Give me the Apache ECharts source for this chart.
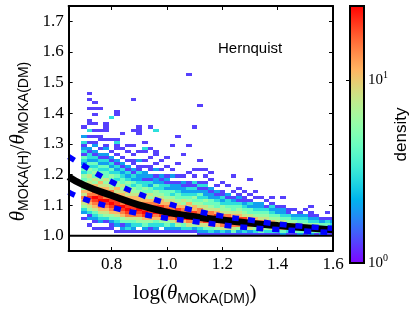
<!DOCTYPE html>
<html><head><meta charset="utf-8">
<script src="https://cdn.jsdelivr.net/npm/echarts@6/dist/echarts.min.js"></script>
<style>html,body{margin:0;padding:0;background:#fff}#c{width:415px;height:311px}</style>
</head><body><div id="c"></div>
<script>
// ---- axes / ticks ----
const X_MIN = 0.645, X_MAX = 1.6;
const Y_MIN = 0.95, Y_MAX = 1.75;
const X_TICKS = [0.8, 1.0, 1.2, 1.4, 1.6];
const Y_TICKS = [1.0, 1.1, 1.2, 1.3, 1.4, 1.5, 1.6, 1.7];
const CBAR_MIN = 1, CBAR_MAX = 25.4;
const CBAR_TICKS = [1, 10];

// ---- 2D histogram (columns of x-bins, chars = rows from y=0.98 upward) ----
const BIN_X0 = 0.69, BIN_DX = 0.02, BIN_Y0 = 0.98, BIN_DY = 0.01;
const LEVEL_VALUES = { '1': 1.3, '2': 2, '3': 3, '4': 4.5, '5': 6, '6': 8, '7': 11, '8': 15, '9': 20, 'X': 25 };
const COLUMNS = [
  ".......1.235678675654534423413213.2..1",
  ".....1.213567898786656453423312.1.1.3.11...1..1.1",
  "....1.12346789X897756454342312.21.1.1.1..1.1.1",
  "....1.2346789X998767554342312.1..11.1......1",
  "....1.1356789X897765644342312.21.1..111",
  "....11245789X987865645342312.1...1......3",
  "...1.234678X998767553432312.1.1131.......11",
  "...12145789X89776564432312.1..1....1",
  "...1324689X9X876754532312.1..1.1",
  "...123468X99877655342312.11.1..1....1.........1",
  "...1.35689X89776544322311.2..1.....111",
  "...124579X9987664533122.1.1..13.1",
  "...1135799X88756442312.11..1..1......1",
  "...123478X998765534221.2.1..11......3",
  "...1.3579X897765433212.1..1",
  "...12458X9987654423121..1..1",
  "...123689X8876534221.2.1.......1",
  "...12579X99765443221.1...1........1",
  "...13479X88756432212.1......1",
  "...1368X998675432311..1........1......................1",
  "...12578X97754532313.1.1.............1",
  "..12368X988654342131...1..1.................1",
  "..12469X976645322131.1.1",
  "..13479X8865442212..1.1",
  "..12579X976443212.1",
  "..1368X9865532311..1",
  "..12679X86543312..1",
  "..1468X97644321.1....1",
  "..1258X976543121.1",
  "..1359896543211.1",
  "..126897644231.1....1",
  "..13588754322.1.1",
  "..14788654322.1",
  "..1358765431.1",
  "..13687543231.1",
  "..1378654221",
  "..2477643221..1",
  "..136754311",
  "..1467532.1",
  "..24664321",
  "..1465432.1",
  "..24653211.1",
  "..1455321",
  "..245421",
  "..135431.1",
  "..134321"
];

// ---- curves ----
const CURVE_X = [0.645, 0.7, 0.8, 0.9, 1.0, 1.1, 1.2, 1.3, 1.4, 1.5, 1.6];
const MODEL_Y = [1.192, 1.165, 1.131, 1.100, 1.077, 1.062, 1.051, 1.041, 1.033, 1.026, 1.019];
const UPPER_Y = [1.258, 1.228, 1.176, 1.136, 1.106, 1.082, 1.064, 1.051, 1.038, 1.030, 1.024];
const LOWER_Y = [1.142, 1.120, 1.093, 1.072, 1.057, 1.046, 1.035, 1.026, 1.020, 1.015, 1.010];
const REF_Y = 1.0;

// ---- build ----
const cells = [];
COLUMNS.forEach((col, i) => {
  for (let j = 0; j < col.length; j++) {
    const ch = col[j];
    if (ch === '.') continue;
    const v = LEVEL_VALUES[ch];
    cells.push([BIN_X0 + i * BIN_DX, BIN_Y0 + j * BIN_DY, v, Math.log10(v)]);
  }
});
function rainbow(t) {
  const r = Math.min(1, Math.abs(2 * t - 0.5)), g = Math.sin(Math.PI * t), b = Math.cos(Math.PI * t / 2);
  return 'rgb(' + Math.round(r * 255) + ',' + Math.round(g * 255) + ',' + Math.round(b * 255) + ')';
}
const N = 24;
const rainbowColors = [], rainbowStops = [];
for (let k = 0; k <= N; k++) { rainbowColors.push(rainbow(k / N)); rainbowStops.push({ offset: k / N, color: rainbow(k / N) }); }
const LOG_MIN = Math.log10(CBAR_MIN), LOG_MAX = Math.log10(CBAR_MAX);

const SERIF = '"Liberation Serif", "DejaVu Serif", serif';
const SANS = '"Liberation Sans", "DejaVu Sans", sans-serif';
const nameRich = {
  t: { fontFamily: SERIF, fontStyle: 'italic', fontSize: 21, lineHeight: 26, color: '#000' },
  s: { fontFamily: SANS, fontSize: 14, lineHeight: 14, verticalAlign: 'bottom', color: '#000' },
  a: { fontFamily: SERIF, fontSize: 21, lineHeight: 26, color: '#000' }
};
const tickFmt = v => v.toFixed(1);
const frameLine = { show: true, lineStyle: { color: '#000', width: 2 } };
const tickIn = (vals) => ({ show: true, inside: true, length: 4, customValues: vals, lineStyle: { color: '#000', width: 1 } });

const chart = echarts.init(document.getElementById('c'), null, { renderer: 'canvas' });
chart.setOption({
  animation: false,
  backgroundColor: '#fff',
  grid: [
    { left: 58, top: 6, width: 275, height: 257, show: false },
    { left: 350, top: 6, width: 14, height: 257, show: false }
  ],
  xAxis: [
    { gridIndex: 0, type: 'value', min: X_MIN, max: X_MAX, position: 'bottom', z: 5,
      axisLine: frameLine, axisTick: tickIn(X_TICKS), splitLine: { show: false },
      axisLabel: { customValues: X_TICKS, formatter: tickFmt, margin: 5, fontFamily: SERIF, fontSize: 17, color: '#000' },
      name: '{a|log(}{t|θ}{s|MOKA(DM)}{a|)}', nameLocation: 'middle', nameGap: 29,
      nameTextStyle: { rich: nameRich, padding: [0, 12, 0, 0] } },
    { gridIndex: 0, type: 'value', min: X_MIN, max: X_MAX, position: 'top', z: 5,
      axisLine: frameLine, axisTick: tickIn(X_TICKS), axisLabel: { show: false }, splitLine: { show: false } },
    { gridIndex: 1, type: 'value', min: 0, max: 1, show: false }
  ],
  yAxis: [
    { gridIndex: 0, type: 'value', min: Y_MIN, max: Y_MAX, position: 'left', z: 5,
      axisLine: frameLine, axisTick: tickIn(Y_TICKS), splitLine: { show: false },
      axisLabel: { customValues: Y_TICKS, formatter: tickFmt, margin: 5, fontFamily: SERIF, fontSize: 17, color: '#000' },
      name: '{t|θ}{s|MOKA(H)}{a|/}{t|θ}{s|MOKA(DM)}', nameLocation: 'middle', nameGap: 25, nameRotate: 90,
      nameTextStyle: { rich: nameRich, padding: [0, 26, 0, 0] } },
    { gridIndex: 0, type: 'value', min: Y_MIN, max: Y_MAX, position: 'right', z: 5,
      axisLine: frameLine, axisTick: tickIn(Y_TICKS), axisLabel: { show: false }, splitLine: { show: false } },
    { gridIndex: 1, type: 'value', min: LOG_MIN, max: LOG_MAX, position: 'right', z: 5,
      axisLine: frameLine, splitLine: { show: false },
      axisTick: { show: true, inside: true, length: 4, customValues: [Math.log10(CBAR_TICKS[1])], lineStyle: { color: '#000' } },
      axisLabel: { customValues: CBAR_TICKS.map(v => Math.log10(v)), margin: 4,
        formatter: v => '{b|10}{s|' + Math.round(v) + '}',
        rich: { b: { fontFamily: SERIF, fontSize: 15, lineHeight: 20, color: '#000' },
                s: { fontFamily: SERIF, fontSize: 10, lineHeight: 10, verticalAlign: 'top', color: '#000' } } },
      name: 'density', nameLocation: 'middle', nameRotate: 90, nameGap: 29,
      nameTextStyle: { fontFamily: SANS, fontSize: 17, color: '#000' } }
  ],
  visualMap: [{
    show: false, type: 'continuous', seriesIndex: 0, dimension: 3, min: LOG_MIN, max: LOG_MAX,
    inRange: { color: rainbowColors }
  }],
  graphic: [{
    type: 'text', left: 218, top: 41, z: 10,
    style: { text: 'Hernquist', font: '15px "Liberation Sans"', fill: '#000' }
  }],
  series: [
    { type: 'custom', xAxisIndex: 0, yAxisIndex: 0, data: cells, z: 1,
      encode: { x: 0, y: 1 },
      renderItem: (params, api) => {
        const x0 = api.value(0), y0 = api.value(1);
        const p1 = api.coord([x0, y0 + BIN_DY]);
        const p2 = api.coord([x0 + BIN_DX, y0]);
        const cs = params.coordSys;
        const L = Math.max(Math.round(p1[0]), cs.x), R = Math.min(Math.round(p2[0]), cs.x + cs.width);
        const T = Math.max(Math.round(p1[1]), cs.y), B = Math.min(Math.round(p2[1]), cs.y + cs.height);
        if (R <= L || B <= T) return null;
        return { type: 'rect', shape: { x: L, y: T, width: R - L, height: B - T }, style: { fill: api.visual('color') } };
      } },
    { type: 'line', xAxisIndex: 0, yAxisIndex: 0, data: [[X_MIN, REF_Y], [X_MAX, REF_Y]], symbol: 'none', z: 3,
      lineStyle: { color: '#000', width: 2 } },
    { type: 'line', xAxisIndex: 0, yAxisIndex: 0, data: CURVE_X.map((x, i) => [x, MODEL_Y[i]]), symbol: 'none', smooth: true, z: 3,
      lineStyle: { color: '#000', width: 7 } },
    { type: 'line', xAxisIndex: 0, yAxisIndex: 0, data: CURVE_X.map((x, i) => [x, UPPER_Y[i]]), symbol: 'none', smooth: true, z: 4,
      lineStyle: { color: '#0000ff', width: 5.5, type: [7, 9], cap: 'butt' } },
    { type: 'line', xAxisIndex: 0, yAxisIndex: 0, data: CURVE_X.map((x, i) => [x, LOWER_Y[i]]), symbol: 'none', smooth: true, z: 4,
      lineStyle: { color: '#0000ff', width: 5.5, type: [7, 9], cap: 'butt' } },
    { type: 'custom', xAxisIndex: 2, yAxisIndex: 2, data: [[0, LOG_MIN, 1, LOG_MAX]], z: 1,
      renderItem: (params, api) => {
        const p1 = api.coord([api.value(0), api.value(3)]);
        const p2 = api.coord([api.value(2), api.value(1)]);
        return { type: 'rect', shape: { x: p1[0], y: p1[1], width: p2[0] - p1[0], height: p2[1] - p1[1] },
          style: { fill: new echarts.graphic.LinearGradient(0, 1, 0, 0, rainbowStops), stroke: '#000', lineWidth: 2 } };
      } }
  ]
});
</script></body></html>
